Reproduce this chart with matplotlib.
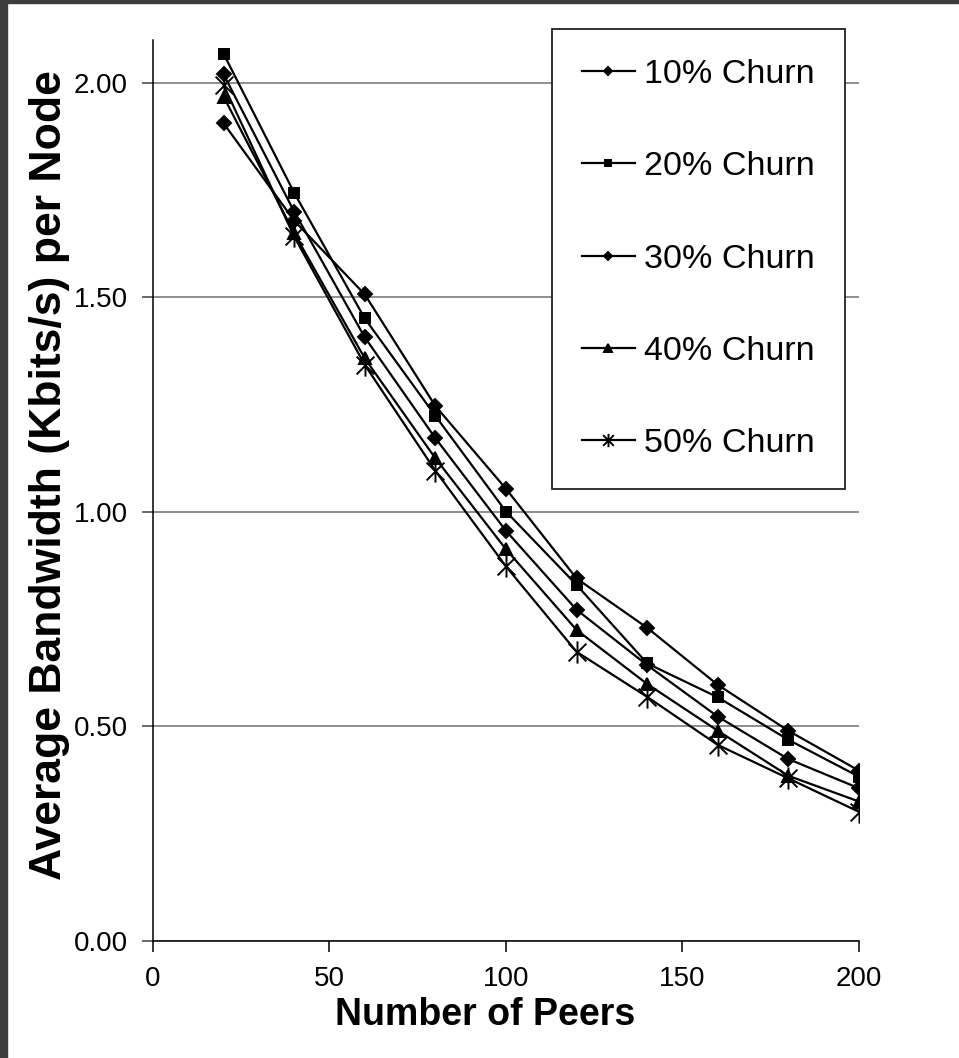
import numpy as np
import matplotlib
matplotlib.use("Agg")
import matplotlib.pyplot as plt
from matplotlib.path import Path
from matplotlib.patches import Rectangle

plt.rcParams['font.family'] = ['Liberation Sans', 'DejaVu Sans']

# data
peers = [20, 40, 60, 80, 100, 120, 140, 160, 180, 200]
churn10 = [1.906, 1.679, 1.507, 1.247, 1.054, 0.845, 0.730, 0.597, 0.490, 0.397]
churn20 = [2.068, 1.744, 1.451, 1.224, 1.001, 0.830, 0.647, 0.568, 0.469, 0.383]
churn30 = [2.020, 1.700, 1.407, 1.172, 0.956, 0.772, 0.643, 0.523, 0.424, 0.356]
churn40 = [1.968, 1.650, 1.358, 1.125, 0.913, 0.725, 0.599, 0.490, 0.385, 0.325]
churn50 = [1.995, 1.642, 1.343, 1.096, 0.873, 0.674, 0.569, 0.457, 0.379, 0.301]
labels = ['10% Churn', '20% Churn', '30% Churn', '40% Churn', '50% Churn']
yticks = [0.0, 0.5, 1.0, 1.5, 2.0]
xticks = [0, 50, 100, 150, 200]

# excel style "star" marker: x with a vertical bar
M, L = Path.MOVETO, Path.LINETO
star = Path([(-1, -1), (1, 1), (-1, 1), (1, -1), (0, -1.25), (0, 1.25)],
            [M, L, M, L, M, L])

fig = plt.figure(figsize=(9.59, 10.58), dpi=100)
ax = fig.add_axes([0.1595, 0.1106, 0.7362, 0.8516])

series = [churn10, churn20, churn30, churn40, churn50]
markers = ['D', 's', 'D', '^', star]
sizes = [7, 7.5, 7, 8.5, 16]
for ys, m, ms, lab in zip(series, markers, sizes, labels):
    ax.plot(peers, ys, color='black', lw=1.6, marker=m, ms=ms,
            mfc='black', mec='black', mew=1.4, label=lab)

ax.set_xlim(0, 200)
ax.set_ylim(0, 2.1)
ax.set_xticks(xticks)
ax.set_yticks(yticks)
ax.set_yticklabels(['%.2f' % v for v in yticks])
ax.yaxis.grid(True, color='#707070', lw=1.1)
ax.set_axisbelow(True)

for s in ['top', 'right']:
    ax.spines[s].set_visible(False)
for s in ['left', 'bottom']:
    ax.spines[s].set_linewidth(1.1)
ax.tick_params(axis='x', direction='out', length=8, width=1.1, pad=10, labelsize=20)
ax.tick_params(axis='y', direction='out', length=8, width=1.1, pad=10, labelsize=20,
               color='#404040')

ax.set_xlabel('Number of Peers', fontsize=27, fontweight='bold')
ax.xaxis.set_label_coords(0.47, -0.062)
ax.set_ylabel('Average Bandwidth (Kbits/s) per Node', fontsize=32, fontweight='bold')
ax.yaxis.set_label_coords(-0.118, 0.517)

leg = ax.legend(loc='upper left', bbox_to_anchor=(0.565, 1.012), borderaxespad=0,
                fontsize=24.5, frameon=True, fancybox=False, framealpha=1,
                edgecolor='#222222', markerscale=0.6, handlelength=1.55,
                handletextpad=0.28, labelspacing=1.8, borderpad=0.88)
leg.get_frame().set_linewidth(1.3)

# dark frame on the top and left edges
fig.patches.append(Rectangle((0, 0), 7 / 959, 1, transform=fig.transFigure,
                             color='#3c3c3c', zorder=10))
fig.patches.append(Rectangle((0, 1 - 3 / 1058), 1, 3 / 1058, transform=fig.transFigure,
                             color='#3c3c3c', zorder=10))

plt.savefig("out.png", dpi=100)
plt.close()
